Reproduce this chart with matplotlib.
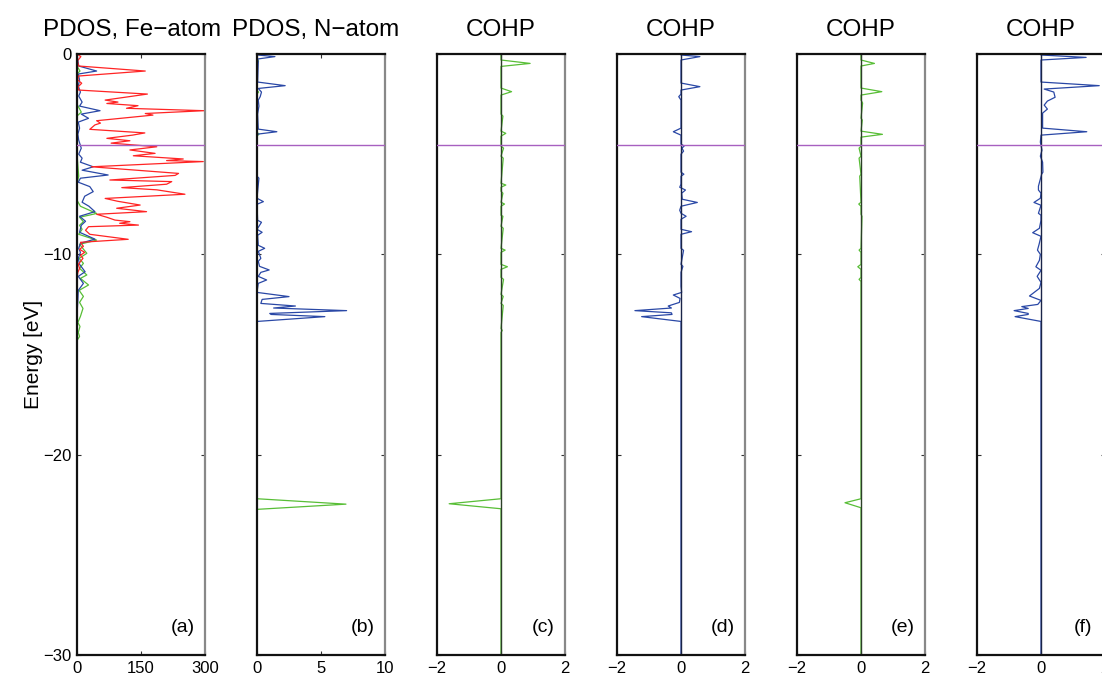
import numpy as np
import matplotlib
matplotlib.use("Agg")
import matplotlib.pyplot as plt

plt.rcParams['font.family'] = ['Liberation Sans', 'DejaVu Sans']

# Fermi level [eV]
E_FERMI = -4.54

# (a) PDOS on Fe atom: d (red), p (blue), s (green)
fe_d_E = [0, -0.13, -0.35, -0.6, -0.85, -1.1, -1.3, -1.46, -1.65, -1.8, -2.0, -2.3, -2.4,
          -2.47, -2.58, -2.71, -2.83, -2.97, -3.05, -3.33, -3.45, -3.54, -3.76, -3.94, -4.05,
          -4.21, -4.33, -4.45, -4.63, -4.79, -4.96, -5.08, -5.24, -5.32, -5.37, -5.63, -5.96,
          -6.06, -6.29, -6.37, -6.5, -6.67, -6.78, -7.0, -7.21, -7.35, -7.54, -7.7, -7.87,
          -8.0, -8.15, -8.29, -8.37, -8.45, -8.54, -8.62, -8.8, -9.0, -9.25, -9.4, -9.6,
          -9.75, -9.9, -10.05, -10.2, -10.5, -10.7, -10.9, -11.2, -30]
fe_d_v = [0, 9, 1, 4, 160, 3, 2, 11, 2, 4, 165, 66, 96,
          70, 143, 116, 298, 160, 178, 46, 55, 42, 30, 159, 130,
          70, 124, 80, 187, 124, 183, 132, 249, 210, 296, 34, 238,
          230, 77, 222, 210, 105, 187, 253, 66, 95, 148, 93, 163,
          46, 70, 89, 124, 100, 144, 27, 20, 30, 120, 8, 15,
          6, 18, 8, 14, 3, 6, 2, 0, 0]

fe_p_E = [0, -0.3, -0.6, -0.85, -1.0, -1.3, -1.6, -1.9, -2.1, -2.4, -2.6, -2.83, -3.0,
          -3.21, -3.4, -3.7, -4.0, -4.3, -4.7, -5.0, -5.2, -5.4, -5.63, -5.8, -6.04, -6.2,
          -6.4, -6.62, -6.87, -7.1, -7.4, -7.6, -7.87, -8.1, -8.35, -8.55, -8.9, -9.24,
          -9.45, -9.7, -9.9, -10.2, -10.5, -10.87, -11.1, -11.45, -11.8, -12.3, -13.0, -30]
fe_p_v = [0, 2, 4, 46, 3, 6, 3, 8, 4, 12, 6, 54, 10,
          27, 3, 6, 2, 4, 10, 4, 12, 8, 38, 12, 73, 8,
          3, 30, 38, 18, 12, 28, 42, 6, 20, 10, 6, 42,
          8, 4, 8, 3, 6, 19, 3, 15, 3, 2, 0, 0]

fe_s_E = [0, -0.6, -0.85, -1.0, -2.5, -2.9, -3.1, -5.0, -6.1, -6.5, -7.3, -7.6, -7.96,
          -8.15, -8.37, -8.55, -8.75, -9.0, -9.29, -9.5, -9.95, -10.2, -10.45, -10.7,
          -11.03, -11.2, -11.53, -11.8, -12.1, -12.4, -12.7, -13.1, -13.4, -13.6, -13.9,
          -14.1, -14.3, -30]
fe_s_v = [0, 0, 7, 0, 0, 10, 0, 0, 4, 0, 0, 8, 46,
          6, 15, 6, 12, 4, 46, 6, 23, 5, 15, 6,
          23, 8, 27, 5, 15, 6, 14, 8, 2, 7, 3,
          6, 0, 0]

# (b) PDOS on N atom: p (blue), s (green)
n_p_E = [0, -0.05, -0.13, -0.25, -0.4, -1.4, -1.58, -1.72, -1.9, -2.13, -2.3, -2.6, -3.0,
         -3.75, -3.88, -4.0, -4.2, -6.1, -6.2, -7.2, -7.37, -7.5, -8.3, -8.4, -8.75, -8.9,
         -9.05, -9.55, -9.7, -9.85, -10.2, -10.35, -10.6, -10.78, -10.9, -11.1, -11.28,
         -11.45, -11.9, -12.11, -12.25, -12.45, -12.58, -12.68, -12.81, -12.95, -13.0,
         -13.11, -13.35, -30]
n_p_v = [0, 0.05, 1.4, 0.05, 0.1, 0.05, 2.2, 0.1, 0.35, 0.25, 0.1, 0.15, 0.05,
         0.1, 1.55, 0.05, 0.0, 0.0, 0.15, 0.0, 0.5, 0.0, 0.05, 0.35, 0.0, 0.4,
         0.05, 0.1, 0.6, 0.1, 0.3, 0.1, 0.2, 0.95, 0.3, 0.1, 0.75,
         0.1, 0.0, 2.5, 0.4, 0.3, 3.0, 1.3, 7.0, 1.0, 1.1,
         5.3, 0.0, 0.0]

n_s_E = [0, -0.25, -0.35, -0.45, -1.8, -1.9, -2.0, -3.9, -4.0, -4.1, -22.2, -22.47, -22.73, -30]
n_s_v = [0, 0, 0.12, 0, 0, 0.12, 0, 0, 0.15, 0, 0, 6.95, 0, 0]

# (c) COHP, s-type
cohp_c_E = [0, -0.3, -0.47, -0.62, -1.7, -1.88, -2.05, -3.0, -3.1, -3.85, -3.96, -4.1, -4.6,
            -4.7, -5.1, -5.2, -6.45, -6.54, -6.65, -6.85, -6.95, -7.4, -7.49, -7.6, -8.05,
            -8.1, -8.6, -8.7, -9.7, -9.79, -9.9, -10.5, -10.62, -10.75, -11.15, -11.25,
            -12.0, -12.1, -12.45, -12.55, -13.7, -13.8, -13.9, -22.2, -22.45, -22.7, -30]
cohp_c_v = [0, 0, 0.91, 0, 0, 0.33, 0, 0, 0.06, 0, 0.15, 0, 0,
            0.08, 0, 0.07, 0, 0.15, 0, 0, 0.06, 0, 0.11, 0, 0,
            0.06, 0, 0.07, 0, 0.13, 0, 0, 0.2, 0, 0, 0.08,
            0, 0.07, 0, 0.07, 0, 0.04, 0, 0, -1.62, 0, 0]

# (d) COHP, p-type
cohp_d_E = [0, -0.05, -0.13, -0.3, -1.45, -1.63, -1.8, -2.0, -2.13, -2.3, -3.7, -3.88, -4.05,
            -4.5, -4.59, -4.7, -4.85, -5.0, -5.9, -6.0, -6.1, -6.5, -6.65, -6.79, -6.95,
            -7.25, -7.41, -7.6, -7.8, -7.95, -8.1, -8.25, -8.75, -8.87, -9.0, -9.7, -9.8,
            -10.5, -10.6, -10.9, -11.6, -11.9, -12.03, -12.2, -12.4, -12.58, -12.68, -12.81,
            -12.92, -13.0, -13.11, -13.35, -30]
cohp_d_v = [0, 0.0, 0.59, 0.0, 0.0, 0.59, 0.0, 0.0, -0.07, 0.0, 0.0, -0.24, 0.0,
            0.0, 0.1, 0.03, 0.08, 0.0, 0.0, 0.09, 0.0, 0.0, -0.04, 0.14, 0.02,
            0.04, 0.51, 0.0, -0.04, 0.0, 0.16, 0.0, 0.0, 0.33, 0.0, 0.0, 0.08,
            0.0, 0.06, 0.0, 0.0, 0.02, -0.24, -0.03, -0.05, -0.4, -0.3, -1.44,
            -0.3, -0.28, -1.23, 0.0, 0.0]

# (e) COHP, s-type
cohp_e_E = [0, -0.3, -0.47, -0.6, -1.7, -1.88, -2.05, -2.3, -2.45, -3.2, -3.3, -3.85, -4.01,
            -4.15, -4.6, -4.7, -5.1, -5.2, -6.0, -6.1, -7.4, -7.49, -7.6, -8.0, -8.1, -9.7,
            -9.79, -9.9, -10.5, -10.62, -10.75, -11.15, -11.25, -11.35, -22.2, -22.4, -22.65, -30]
cohp_e_v = [0, 0, 0.42, 0, 0, 0.65, 0, 0, 0.05, 0, 0.04, 0, 0.67,
            0, 0, -0.06, 0, -0.06, 0, -0.04, 0, -0.07, 0, 0, 0.03, 0,
            -0.06, 0, 0, -0.1, 0, 0, -0.06, 0, 0, -0.5, 0, 0]

# (f) COHP, p-type
cohp_f_E = [0, -0.05, -0.17, -0.3, -1.4, -1.58, -1.75, -1.9, -2.16, -2.35, -2.55, -2.75, -2.95,
            -3.1, -3.7, -3.88, -4.05, -4.4, -4.8, -5.1, -5.4, -5.9, -6.0, -6.3, -6.6, -6.79,
            -6.95, -7.2, -7.41, -7.55, -7.95, -8.05, -8.3, -8.7, -8.92, -9.1, -9.5, -9.79,
            -10.0, -10.3, -10.62, -10.8, -11.1, -11.4, -11.7, -12.08, -12.3, -12.5, -12.61,
            -12.7, -12.81, -12.95, -13.0, -13.11, -13.35, -30]
cohp_f_v = [0, 0, 1.41, 0, 0, 1.82, 0.1, 0.4, 0.44, 0.2, 0.1, 0.2, 0.05,
            0.05, 0.05, 1.43, 0.0, -0.02, 0.03, -0.02, 0.05, 0.06, 0.02, -0.03, -0.08, -0.08,
            0.0, -0.02, -0.22, 0.0, -0.08, 0.0, 0.0, -0.05, -0.26, 0.0, -0.06, -0.11,
            -0.02, -0.05, -0.16, 0.0, -0.12, 0.0, -0.05, -0.36, 0.0, -0.1, -0.6,
            -0.4, -0.84, -0.4, -0.4, -0.81, 0.0, 0.0]

RED = '#ff2424'
BLUE = '#2a48a6'
GREEN = '#58be36'
PURPLE = '#a760c0'

titles = ['PDOS, Fe\u2212atom', 'PDOS, N\u2212atom', 'COHP', 'COHP', 'COHP', 'COHP']
title_x = [0.43, 0.455, 0.5, 0.5, 0.5, 0.5]
letters = ['(a)', '(b)', '(c)', '(d)', '(e)', '(f)']
xlims = [(0, 300), (0, 10), (-2, 2), (-2, 2), (-2, 2), (-2, 2)]
xticks = [[0, 150, 300], [0, 5, 10], [-2, 0, 2], [-2, 0, 2], [-2, 0, 2], [-2, 0, 2]]

curves = [
    [(fe_s_E, fe_s_v, GREEN), (fe_p_E, fe_p_v, BLUE), (fe_d_E, fe_d_v, RED)],
    [(n_s_E, n_s_v, GREEN), (n_p_E, n_p_v, BLUE)],
    [(cohp_c_E, cohp_c_v, GREEN)],
    [(cohp_d_E, cohp_d_v, BLUE)],
    [(cohp_e_E, cohp_e_v, GREEN)],
    [(cohp_f_E, cohp_f_v, BLUE)],
]
# dark zero line drawn over the COHP curves
zero_colors = [None, None, '#2c3f28', '#1a2448', '#2c3f28', '#1a2448']

W, H = 1102, 679
fig = plt.figure(figsize=(W / 100, H / 100), dpi=100)

for i in range(6):
    left = 77 + 180 * i
    ax = fig.add_axes([left / W, 24 / H, 128 / W, 601 / H])
    for E, v, c in curves[i]:
        ax.plot(v, E, color=c, lw=0.9, zorder=2)
    if zero_colors[i] is not None:
        ax.axvline(0, color=zero_colors[i], lw=1.0, zorder=2.5)
    ax.axhline(E_FERMI, color=PURPLE, lw=1.0, zorder=3)

    ax.set_xlim(*xlims[i])
    ax.set_ylim(-30, 0)
    ax.set_xticks(xticks[i])
    ax.set_yticks([-30, -20, -10, 0])
    ax.set_xticklabels([str(t).replace('-', '\u2212') for t in xticks[i]])
    if i == 0:
        ax.set_yticklabels(['\u221230', '\u221220', '\u221210', '0'])
        ax.set_ylabel('Energy [eV]', fontsize=15, labelpad=0)
    else:
        ax.set_yticklabels([])
    ax.tick_params(direction='in', length=3, width=0.8, top=True, right=True,
                   labelsize=12, pad=4, color='#333333')
    for side in ['left', 'top', 'bottom']:
        ax.spines[side].set_linewidth(1.6)
        ax.spines[side].set_color('#111111')
    ax.spines['right'].set_linewidth(1.6)
    ax.spines['right'].set_color('#888888')

    ax.set_title(titles[i], fontsize=17.5, pad=13, x=title_x[i])
    ax.text(0.83, 0.045, letters[i], transform=ax.transAxes, fontsize=14,
            ha='center', va='center')

fig.savefig('out.png', dpi=100)
